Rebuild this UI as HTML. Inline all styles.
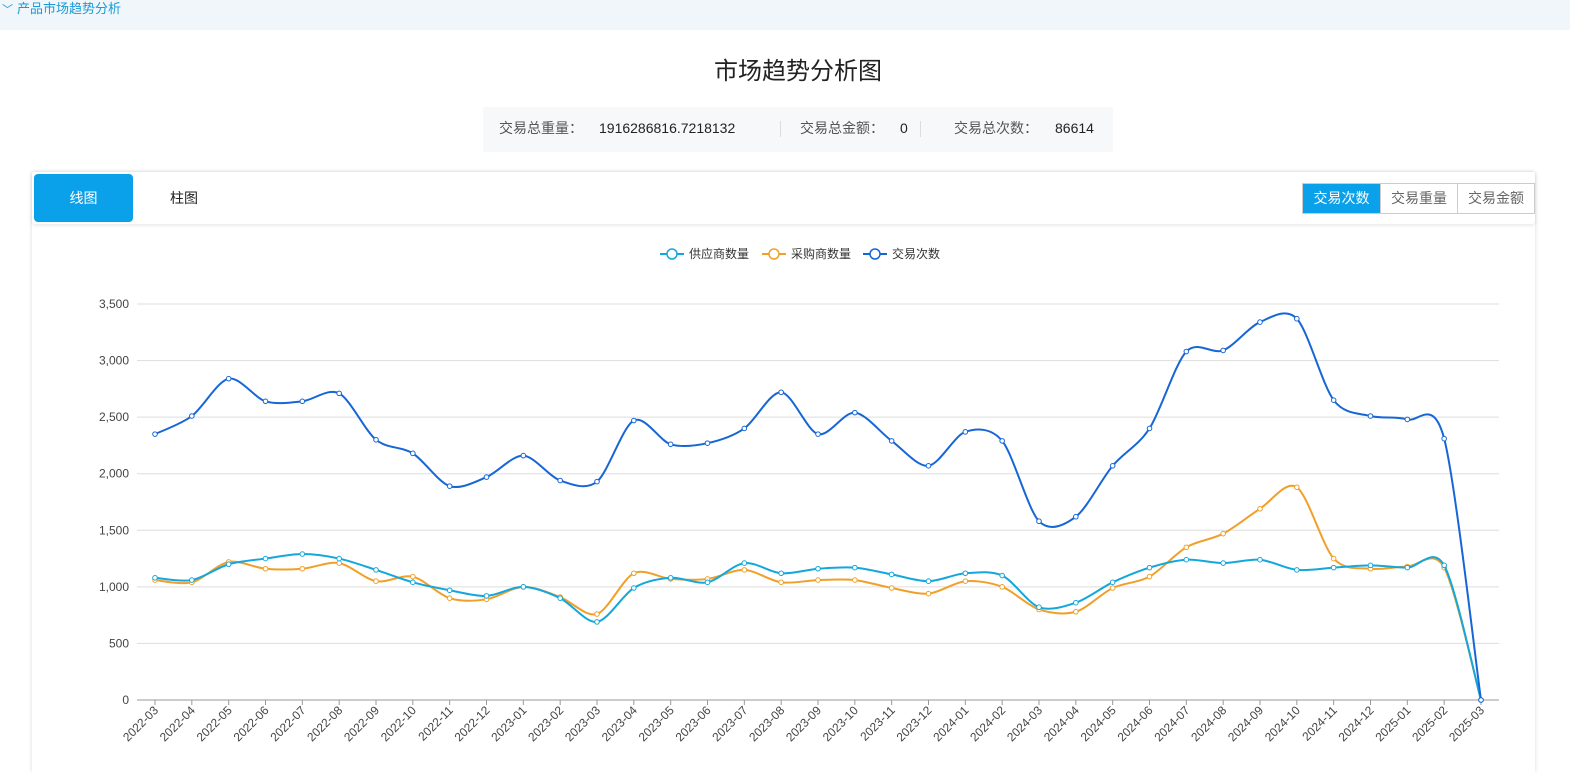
<!DOCTYPE html>
<html><head><meta charset="utf-8"><style>
*{margin:0;padding:0;box-sizing:border-box}
body{width:1570px;height:755px;overflow:hidden;background:#fff;font-family:"Liberation Sans","Noto Sans CJK SC",sans-serif;position:relative}
.top{position:absolute;left:0;top:0;width:1570px;height:30px;background:#f0f6fa;color:#1a9ad6;font-size:13px;line-height:18px;padding-left:17px}
.top .chev{position:absolute;left:2px;top:1px;font-size:11px}
.title{position:absolute;top:51px;left:0;width:1596px;text-align:center;font-size:24px;color:#222}
.stats{position:absolute;left:483px;top:107px;width:630px;height:45px;background:#f7f8fa;font-size:14px;color:#555;line-height:43px}
.stats span{position:absolute;top:0}
.stats b{font-weight:normal;color:#222;position:absolute;top:0;white-space:nowrap}
.sep{position:absolute;top:14px;width:1px;height:16px;background:#ddd}
.card{position:absolute;left:32px;top:172px;width:1503px;height:600px;box-shadow:0 0 4px rgba(0,0,0,.15);background:#fff}
.tabbar{position:absolute;left:32px;top:172px;width:1503px;height:52px;box-shadow:0 1px 4px rgba(0,0,0,.12);background:#fff;border-radius:3px}
.tab1{position:absolute;left:2px;top:2px;width:99px;height:48px;background:#0aa0ea;border-radius:4px;color:#fff;font-size:14px;text-align:center;line-height:48px}
.tab2{position:absolute;left:138px;top:2px;font-size:14px;line-height:48px;color:#222}
.btns{position:absolute;left:1270px;top:11px;height:31px;display:flex;border:1px solid #ccc}
.btns div{width:77px;text-align:center;font-size:14px;line-height:29px;color:#666;border-left:1px solid #ccc}
.btns div:first-child{border-left:none;background:#0aa0ea;color:#fff}
svg{position:absolute;left:0;top:0}
</style></head><body>
<div class="top"><span class="chev">﹀</span>产品市场趋势分析</div>
<div class="title">市场趋势分析图</div>
<div class="stats">
<span style="left:16px">交易总重量：</span><b style="left:116px">1916286816.7218132</b>
<div class="sep" style="left:297px"></div>
<span style="left:317px">交易总金额：</span><b style="left:417px">0</b>
<div class="sep" style="left:437px"></div>
<span style="left:471px">交易总次数：</span><b style="left:572px">86614</b>
</div>
<div class="card"></div>
<div class="tabbar"><div class="tab1">线图</div><div class="tab2">柱图</div>
<div class="btns"><div>交易次数</div><div>交易重量</div><div>交易金额</div></div></div>
<svg id="c" width="1570" height="755" font-family="Liberation Sans, Noto Sans CJK SC, sans-serif"></svg>
<script>
var blue=[2350,2510,2840,2640,2640,2710,2300,2180,1890,1970,2160,1940,1930,2470,2260,2270,2400,2720,2350,2540,2290,2070,2370,2290,1580,1620,2070,2400,3080,3090,3340,3370,2650,2510,2480,2310,0];
var cyan=[1080,1060,1200,1250,1290,1250,1150,1040,970,920,1000,900,690,990,1080,1040,1210,1120,1160,1170,1110,1050,1120,1100,820,860,1040,1170,1240,1210,1240,1150,1170,1190,1170,1190,0];
var org=[1060,1040,1220,1160,1160,1210,1050,1090,900,890,1000,910,760,1120,1070,1070,1150,1040,1060,1060,990,940,1050,1000,800,780,990,1090,1350,1470,1690,1880,1250,1160,1180,1170,0];
var X0=155,DX=(1481-155)/36,Y0=700,K=396/3500;
var s='';
for(var i=0;i<=7;i++){var y=Y0-i*500*K;s+='<line x1="137" x2="1499" y1="'+y+'" y2="'+y+'" stroke="'+(i?'#ddd':'#999')+'"/>';
s+='<text x="129" y="'+(y+4)+'" font-size="12" fill="#444" text-anchor="end">'+(i*500).toLocaleString('en-US')+'</text>';}
var labs=[];for(var i=0;i<37;i++){var m=(2+i)%12+1,yr=2022+Math.floor((2+i)/12);labs.push(yr+'-'+(m<10?'0':'')+m);}
for(var i=0;i<37;i++){var x=X0+i*DX;s+='<line x1="'+x+'" x2="'+x+'" y1="700" y2="705" stroke="#999"/>';
s+='<text transform="translate('+(x+4)+',711) rotate(-45)" font-size="12" fill="#444" text-anchor="end">'+labs[i]+'</text>';}
function path(d,c){var p=d.map(function(v,i){return[X0+i*DX,Y0-v*K]});var str='M'+p[0][0]+','+p[0][1];
for(var i=0;i<p.length-1;i++){var a=p[Math.max(0,i-1)],b=p[i],c2=p[i+1],e=p[Math.min(p.length-1,i+2)],t=0.15;
str+=' C'+(b[0]+(c2[0]-a[0])*t)+','+(b[1]+(c2[1]-a[1])*t)+' '+(c2[0]-(e[0]-b[0])*t)+','+(c2[1]-(e[1]-b[1])*t)+' '+c2[0]+','+c2[1];}
var o='<path d="'+str+'" fill="none" stroke="'+c+'" stroke-width="2"/>';
p.forEach(function(q){o+='<circle cx="'+q[0]+'" cy="'+q[1]+'" r="2.3" fill="#fff" stroke="'+c+'" stroke-width="1"/>'});return o;}
s+=path(org,'#f0a029')+path(cyan,'#14a7dc')+path(blue,'#1766d6');
var lg=[['#14a7dc','供应商数量',660],['#f0a029','采购商数量',762],['#1766d6','交易次数',863]];
lg.forEach(function(l){s+='<line x1="'+l[2]+'" x2="'+(l[2]+24)+'" y1="254" y2="254" stroke="'+l[0]+'" stroke-width="2"/><circle cx="'+(l[2]+12)+'" cy="254" r="5" fill="#fff" stroke="'+l[0]+'" stroke-width="1.5"/><text x="'+(l[2]+29)+'" y="258" font-size="12" fill="#333">'+l[1]+'</text>';});
document.getElementById('c').innerHTML=s;
</script>
</body></html>
